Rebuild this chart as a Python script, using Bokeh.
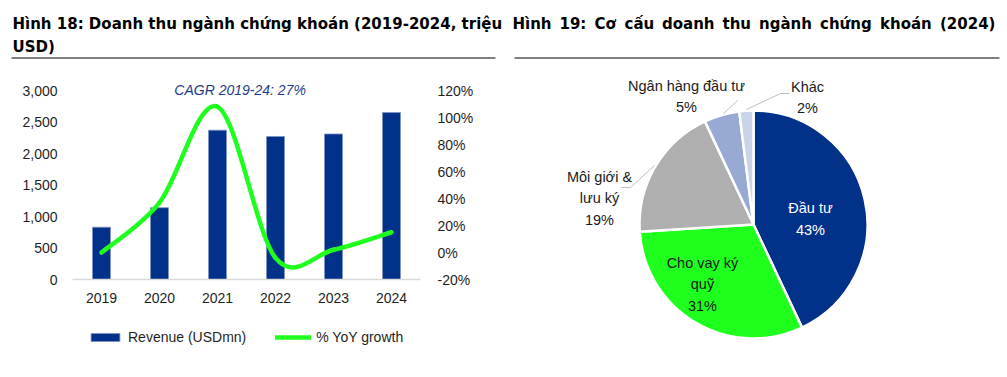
import numpy as np
from bokeh.plotting import figure
from bokeh.models import (Range1d, LinearAxis, FixedTicker, NumeralTickFormatter,
                          PrintfTickFormatter, Legend, LegendItem, Label, ColumnDataSource)
from bokeh.layouts import row, column
from bokeh.core.properties import value
from bokeh.embed import file_html
from bokeh.resources import INLINE

# ---------------- data ----------------
years = ["2019", "2020", "2021", "2022", "2023", "2024"]
revenue = [830, 1140, 2370, 2270, 2310, 2650]          # USD mn
growth = [0, 37, 108, -4, 2, 15]                        # % YoY
rev_ticks = [0, 500, 1000, 1500, 2000, 2500, 3000]
pct_ticks = [-20, 0, 20, 40, 60, 80, 100, 120]
series_names = ["Revenue (USDmn)", "% YoY growth"]
cagr_text = "CAGR 2019-24: 27%"

pie_names = ["Đầu tư", "Cho vay ký\nquỹ", "Môi giới &\nlưu ký", "Ngân hàng đầu tư", "Khác"]
pie_shares = [43, 31, 19, 5, 2]
pie_colors = ["#013189", "#1EFF1E", "#AFAFAF", "#98AAD3", "#C9D3E9"]
pie_text_colors = ["white", "#1a1a1a", "#1a1a1a", "#1a1a1a", "#1a1a1a"]

title_left = ["Hình 18: Doanh thu ngành chứng khoán (2019-2024, triệu", "USD)"]
title_right_words = ["Hình", "19:", "Cơ", "cấu", "doanh", "thu", "ngành", "chứng", "khoán", "(2024)"]

FONT = "Liberation Sans"
TFONT = "DejaVu Sans"
NAVY = "#013189"
GREEN = "#1EFF1E"
TXT = "#1f1f1f"


def bare(fig):
    fig.xgrid.visible = False
    fig.ygrid.visible = False
    return fig


# ---------------- title strips ----------------
def title_fig(x0, x1, xs_, ys_, texts):
    t = bare(figure(width=x1 - x0, height=62, x_range=Range1d(x0, x1), y_range=Range1d(62, 0),
                    output_backend="svg", toolbar_location=None, min_border=0,
                    x_axis_location=None, y_axis_location=None, outline_line_color=None))
    t.text(x=xs_, y=ys_, text=texts,
           text_font=value(TFONT), text_font_style="bold", text_font_size="15px",
           text_color="black", text_baseline="alphabetic", text_align="left")
    t.segment(x0=[x0 + 11], y0=[57.5], x1=[x1 - 8], y1=[57.5], line_color="black", line_width=1)
    return t


tl = title_fig(0, 503, [12, 12], [23.5, 46.5], title_left)
# justified single line: word start positions (layout)
word_x = [512, 559, 594, 624, 661.5, 722, 758.5, 819.5, 879.5, 939.5]
tr = title_fig(503, 1007, word_x, [23.5] * len(word_x), title_right_words)

# ---------------- left chart ----------------
top_px, frame_top, frame_bot, y3000, p_bottom = 62, 75, 279, 90, 314
ymax = 3000 * (frame_bot - frame_top) / (frame_bot - y3000)
pmax = -20 + 140 * (frame_bot - frame_top) / (frame_bot - y3000)

p = bare(figure(width=503, height=p_bottom - top_px, x_range=Range1d(-0.5, 5.5),
                y_range=Range1d(0, ymax), output_backend="svg", toolbar_location=None,
                min_border_left=72, min_border_right=83,
                min_border_top=frame_top - top_px, min_border_bottom=p_bottom - frame_bot,
                outline_line_color=None))
p.extra_y_ranges = {"pct": Range1d(-20, pmax)}

xs = list(range(len(years)))
src = ColumnDataSource(dict(x=xs, rev=revenue, year=years, g=growth))
bar_style = dict(fill_color=NAVY, line_color="#7F93C6", line_width=0.8)
line_style = dict(line_color=GREEN, line_width=4.5, line_cap="round")
p.vbar(x="x", top="rev", width=0.31, source=src, **bar_style)

# smoothed growth line (Catmull-Rom -> cubic bezier, like Excel's smoothed line)
g = np.array(growth, dtype=float)
xa = np.array(xs, dtype=float)
n = len(g)
bx0, by0, bx1, by1, cx0, cy0, cx1, cy1 = [], [], [], [], [], [], [], []
for i in range(n - 1):
    ip, i2 = max(i - 1, 0), min(i + 2, n - 1)
    bx0.append(xa[i]); by0.append(g[i]); bx1.append(xa[i + 1]); by1.append(g[i + 1])
    cx0.append(xa[i] + (xa[i + 1] - xa[ip]) / 6); cy0.append(g[i] + (g[i + 1] - g[ip]) / 6)
    cx1.append(xa[i + 1] - (xa[i2] - xa[i]) / 6); cy1.append(g[i + 1] - (g[i2] - g[i]) / 6)
p.bezier(x0=bx0, y0=by0, x1=bx1, y1=by1, cx0=cx0, cy0=cy0, cx1=cx1, cy1=cy1,
         y_range_name="pct", **line_style)


def style_axis(ax, standoff):
    ax.major_tick_line_color = None
    ax.minor_tick_line_color = None
    ax.major_tick_out = 0
    ax.major_label_standoff = standoff
    ax.major_label_text_font = FONT
    ax.major_label_text_font_size = "14px"
    ax.major_label_text_color = TXT


xa_ = p.xaxis[0]
xa_.ticker = FixedTicker(ticks=xs)
xa_.major_label_overrides = {i: y for i, y in enumerate(years)}
xa_.axis_line_color = "#D9D9D9"
xa_.axis_line_width = 1.5
style_axis(xa_, 13)

ya = p.yaxis[0]
ya.ticker = FixedTicker(ticks=rev_ticks)
ya.formatter = NumeralTickFormatter(format="0,0")
ya.axis_line_color = None
style_axis(ya, 15)

ra = LinearAxis(y_range_name="pct", ticker=FixedTicker(ticks=pct_ticks),
                formatter=PrintfTickFormatter(format="%d%%"))
ra.axis_line_color = None
style_axis(ra, 17)
p.add_layout(ra, "right")

p.add_layout(Label(x=2.39, y=3000 * (frame_bot - 89) / (frame_bot - y3000), text=cagr_text,
                   text_align="center", text_baseline="middle", text_font=FONT,
                   text_font_style="italic", text_font_size="14px", text_color="#1F3B8C"))

# ---------------- legend strip under the left chart ----------------
lg = bare(figure(width=503, height=377 - p_bottom, x_range=Range1d(0, 1), y_range=Range1d(0, 1),
                 output_backend="svg", toolbar_location=None, min_border=0,
                 x_axis_location=None, y_axis_location=None, outline_line_color=None))
# hidden stand-ins carrying the same series and styles, used only for the legend keys
proxy_bar = lg.vbar(x="x", top="rev", width=0.3, source=src, visible=False, **bar_style)
proxy_line = lg.line(x="x", y="g", source=src, visible=False, **line_style)
legend = Legend(items=[LegendItem(label=series_names[0], renderers=[proxy_bar]),
                       LegendItem(label=series_names[1], renderers=[proxy_line])],
                orientation="horizontal", location="top_left", click_policy="none",
                glyph_width=36, glyph_height=10, label_height=10, label_standoff=5,
                spacing=29, padding=0, margin=15, border_line_color=None,
                background_fill_alpha=0, label_text_font=FONT,
                label_text_font_size="14px", label_text_color=TXT)
lg.add_layout(legend)

# ---------------- pie ----------------
def px(xp):
    return xp - 503


def py(yp):
    return 377 - yp


q = bare(figure(width=504, height=315, x_range=Range1d(0, 504), y_range=Range1d(0, 315),
                output_backend="svg", toolbar_location=None, min_border=0,
                x_axis_location=None, y_axis_location=None, outline_line_color=None))

shares = np.array(pie_shares, dtype=float)
frac = shares / shares.sum()
cum = np.concatenate([[0], np.cumsum(frac)])
starts = np.pi / 2 - 2 * np.pi * cum[:-1]
ends = np.pi / 2 - 2 * np.pi * cum[1:]
cx, cy, r = px(753), py(224), 114
psrc = ColumnDataSource(dict(start=starts, end=ends, color=pie_colors))
q.wedge(x=cx, y=cy, radius=r, start_angle="start", end_angle="end", direction="clock",
        fill_color="color", line_color="white", line_width=2.5, source=psrc)

# leader lines (layout)
leaders_x = [[px(654), px(630), px(621)], [px(723), px(737)], [px(746), px(780), px(789)]]
leaders_y = [[py(165), py(187), py(187)], [py(113), py(100)], [py(109), py(93), py(93)]]
q.multi_line(xs=leaders_x, ys=leaders_y, line_color="#BFBFBF", line_width=1)

label_pos = [(810, 218.5), (702, 284), (599, 198), (686, 96), (807, 97)]
ltext = [f"{nm}\n{int(s)}%" for nm, s in zip(pie_names, pie_shares)]
lsrc = ColumnDataSource(dict(x=[px(a) for a, b in label_pos], y=[py(b) for a, b in label_pos],
                             text=ltext, color=pie_text_colors))
q.text(x="x", y="y", text="text", text_color="color", source=lsrc, text_align="center",
       text_baseline="middle", text_font=value(FONT), text_font_size="14.5px",
       text_line_height=1.33)

layout = column(row(tl, tr), row(column(p, lg), column(q)))
open("out.html", "w").write(file_html(layout, INLINE))
